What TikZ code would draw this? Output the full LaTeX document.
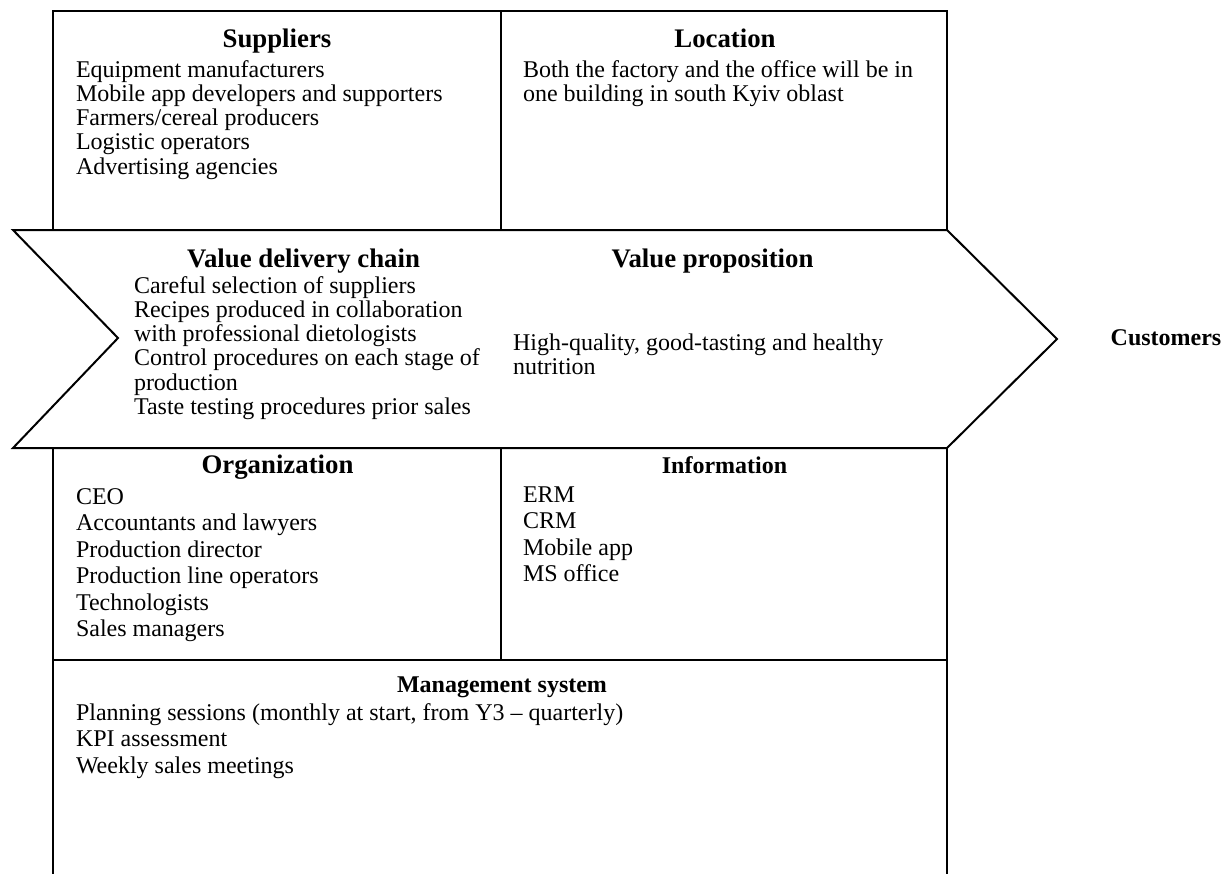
\documentclass[tikz,border=0pt]{standalone}
\usepackage{fontspec}
\setmainfont{Liberation Serif}
\newcommand{\textlines}[1]{\begin{tabular}[t]{@{}l@{}}#1\end{tabular}}
\begin{document}
\begin{tikzpicture}[x=0.5pt,y=-0.5pt,line width=1pt,
  frame/.style={draw=black,line width=1pt,line join=miter},
  head/.style={anchor=base,inner sep=0pt,font=\fontsize{13.4}{15}\selectfont\bfseries},
  subhead/.style={anchor=base,inner sep=0pt,font=\fontsize{12}{14}\selectfont\bfseries},
  body/.style={anchor=base west,inner sep=0pt,font=\fontsize{12}{12.15}\selectfont},
  bodywide/.style={anchor=base west,inner sep=0pt,font=\fontsize{12}{13.25}\selectfont}]
\useasboundingbox (0,0) rectangle (1230,874);
% top boxes
\draw[frame] (53,230) -- (53,11) -- (947,11) -- (947,230);
\draw[frame] (501,11) -- (501,230);
% chevron
\draw[frame] (13,230) -- (947,230) -- (1057,339) -- (947,448) -- (13,448) -- (118,338) -- cycle;
% lower boxes
\draw[frame] (53,448) -- (53,874);
\draw[frame] (947,448) -- (947,874);
\draw[frame] (501,448) -- (501,660);
\draw[frame] (53,660) -- (947,660);
% texts
\node[head] (suph) at (277,47) {Suppliers};
\node[body] (supb) at (75,77) {\textlines{Equipment manufacturers\\Mobile app developers and supporters\\Farmers/cereal producers\\Logistic operators\\Advertising agencies}};
\node[head] (loch) at (725,47) {Location};
\node[body] (locb) at (522,77) {\textlines{Both the factory and the office will be in\\one building in south Kyiv oblast}};
\node[head] (vdch) at (303.5,267) {Value delivery chain};
\node[body] (vdcb) at (133,293) {\textlines{Careful selection of suppliers\\Recipes produced in collaboration\\with professional dietologists\\Control procedures on each stage of\\production\\Taste testing procedures prior sales}};
\node[head] (vph) at (712.5,267) {Value proposition};
\node[body] (vpb) at (512,350) {\textlines{High-quality, good-tasting and healthy\\nutrition}};
\node[subhead] (cust) at (1166,345) {Customers};
\node[head] (orgh) at (277.5,473) {Organization};
\node[bodywide] (orgb) at (75,504) {\textlines{CEO\\Accountants and lawyers\\Production director\\Production line operators\\Technologists\\Sales managers}};
\node[subhead] (infh) at (724.5,473) {Information};
\node[bodywide] (infb) at (522,502) {\textlines{ERM\\CRM\\Mobile app\\MS office}};
\node[subhead] (mgmh) at (502,692) {Management system};
\node[bodywide] (mgmb) at (75,720) {\textlines{Planning sessions (monthly at start, from Y3 – quarterly)\\KPI assessment\\Weekly sales meetings}};
\end{tikzpicture}
\end{document}
